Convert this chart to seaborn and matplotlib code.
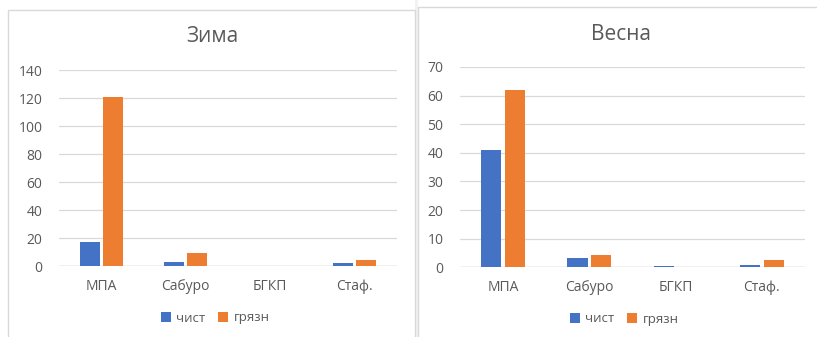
import matplotlib
matplotlib.use("Agg")
import matplotlib.pyplot as plt
from matplotlib.patches import Rectangle, Patch
import seaborn as sns
import pandas as pd

# Data
categories = ["МПА", "Сабуро", "БГКП", "Стаф."]
series_names = ["чист", "грязн"]
winter_clean = [17, 3, 0, 2.5]
winter_dirty = [121, 9, 0, 4.3]
spring_clean = [41, 3.4, 0.4, 0.9]
spring_dirty = [62, 4.4, 0, 2.4]
winter_ticks = [0, 20, 40, 60, 80, 100, 120, 140]
spring_ticks = [0, 10, 20, 30, 40, 50, 60, 70]

BLUE = "#4472C4"
ORANGE = "#ED7D31"
TEXT = "#595959"
GRID = "#D9D9D9"

sns.set_theme(style="white")
plt.rcParams["font.family"] = ["Open Sans", "DejaVu Sans"]

W, H = 817, 337
fig = plt.figure(figsize=(W / 100, H / 100), dpi=100)
fig.patch.set_facecolor("white")


def fx(px):
    return px / W


def fy(py):
    return 1 - py / H


# chart panels (outer frames)
fig.add_artist(Rectangle((fx(415), 0), fx(3), 1, transform=fig.transFigure,
                         facecolor="#F2F2F2", edgecolor="none", zorder=0))
fig.add_artist(Rectangle((fx(8), fy(345)), fx(407), fy(10) - fy(345),
                         transform=fig.transFigure, facecolor="white",
                         edgecolor="#D9D9D9", linewidth=1.0, zorder=0))
fig.add_artist(Rectangle((fx(418), fy(345)), fx(420), fy(7) - fy(345),
                         transform=fig.transFigure, facecolor="white",
                         edgecolor="#D9D9D9", linewidth=1.0, zorder=0))


def long_frame(clean, dirty):
    rows = []
    for c, a, b in zip(categories, clean, dirty):
        rows.append({"cat": c, "series": series_names[0], "value": a})
        rows.append({"cat": c, "series": series_names[1], "value": b})
    return pd.DataFrame(rows)


def draw(rect, clean, dirty, ticks, title, title_xy, legend_xy):
    ax = fig.add_axes(rect)
    df = long_frame(clean, dirty)
    sns.barplot(data=df, x="cat", y="value", hue="series",
                palette=[BLUE, ORANGE], width=0.55, gap=0.15,
                saturation=1, ax=ax, legend=False, zorder=3,
                linewidth=0, edgecolor="none")
    ax.set_ylim(ticks[0], ticks[-1])
    ax.set_xlim(-0.5, len(categories) - 0.5)
    ax.set_yticks(ticks)
    ax.set_yticklabels([str(t) for t in ticks])
    ax.grid(axis="y", color=GRID, linewidth=0.9, zorder=0)
    ax.grid(axis="x", visible=False)
    ax.set_axisbelow(True)
    for s in ax.spines.values():
        s.set_visible(False)
    ax.axhline(ticks[0], color="#C8C8C8", linewidth=1.0, zorder=1)
    ax.set_xlabel("")
    ax.set_ylabel("")
    ax.tick_params(axis="y", length=0, pad=12, labelsize=10, labelcolor=TEXT)
    ax.tick_params(axis="x", length=0, pad=9, labelsize=10, labelcolor=TEXT)
    ax.set_facecolor("none")

    fig.text(fx(title_xy[0]), fy(title_xy[1]), title, ha="center",
             va="center", fontsize=15, color=TEXT)
    handles = [Patch(facecolor=BLUE, edgecolor="none", linewidth=0,
                     label=series_names[0]),
               Patch(facecolor=ORANGE, edgecolor="none", linewidth=0,
                     label=series_names[1])]
    fig.legend(handles=handles, loc="center",
               bbox_to_anchor=(fx(legend_xy[0]), fy(legend_xy[1])),
               ncol=2, frameon=False, fontsize=9.5, labelcolor=TEXT,
               handlelength=0.75, handleheight=0.75, handletextpad=0.4,
               columnspacing=1.0, borderaxespad=0)
    return ax


draw([fx(59), fy(266), fx(338), fy(70) - fy(266)],
     winter_clean, winter_dirty, winter_ticks, "Зима", (212, 36), (215, 318))
draw([fx(460), fy(267.3), fx(345), fy(67) - fy(267.3)],
     spring_clean, spring_dirty, spring_ticks, "Весна", (621, 34), (624, 319))

fig.savefig("out.png", dpi=100, facecolor="white")
